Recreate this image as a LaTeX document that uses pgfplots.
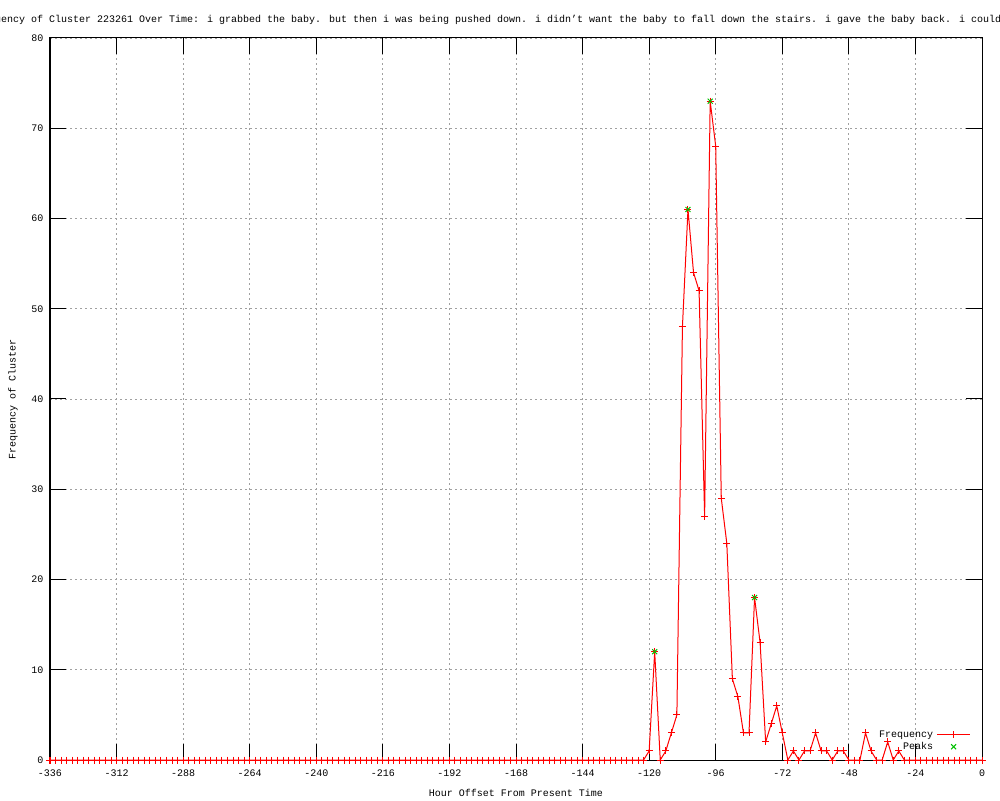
\documentclass[border=0pt]{standalone}
\usepackage{fontspec}
\setmainfont{Liberation Mono}
\usepackage{pgfplots}
\pgfplotsset{compat=1.18}
\usepackage{pgfplotstable}
\definecolor{gpred}{RGB}{255,0,0}
\definecolor{gpgreen}{RGB}{0,192,0}
\definecolor{gpgrid}{RGB}{160,160,160}
\pgfplotsset{
  freqlegend/.style={legend image code/.code={\draw[##1, gpred, line width=1pt, mark=+, mark size=3.5pt, mark repeat=2, mark phase=2] plot coordinates {(0pt,0pt) (16.5pt,0pt) (33pt,0pt)};}},
  peaklegend/.style={legend image code/.code={\path (0pt,0pt) (33pt,0pt); \draw[##1, gpgreen] plot coordinates {(16.5pt,0pt)};}},
}
\pgfplotstableread{
x y
-336 0
-334 0
-332 0
-330 0
-328 0
-326 0
-324 0
-322 0
-320 0
-318 0
-316 0
-314 0
-312 0
-310 0
-308 0
-306 0
-304 0
-302 0
-300 0
-298 0
-296 0
-294 0
-292 0
-290 0
-288 0
-286 0
-284 0
-282 0
-280 0
-278 0
-276 0
-274 0
-272 0
-270 0
-268 0
-266 0
-264 0
-262 0
-260 0
-258 0
-256 0
-254 0
-252 0
-250 0
-248 0
-246 0
-244 0
-242 0
-240 0
-238 0
-236 0
-234 0
-232 0
-230 0
-228 0
-226 0
-224 0
-222 0
-220 0
-218 0
-216 0
-214 0
-212 0
-210 0
-208 0
-206 0
-204 0
-202 0
-200 0
-198 0
-196 0
-194 0
-192 0
-190 0
-188 0
-186 0
-184 0
-182 0
-180 0
-178 0
-176 0
-174 0
-172 0
-170 0
-168 0
-166 0
-164 0
-162 0
-160 0
-158 0
-156 0
-154 0
-152 0
-150 0
-148 0
-146 0
-144 0
-142 0
-140 0
-138 0
-136 0
-134 0
-132 0
-130 0
-128 0
-126 0
-124 0
-122 0
-120 1
-118 12
-116 0
-114 1
-112 3
-110 5
-108 48
-106 61
-104 54
-102 52
-100 27
-98 73
-96 68
-94 29
-92 24
-90 9
-88 7
-86 3
-84 3
-82 18
-80 13
-78 2
-76 4
-74 6
-72 3
-70 0
-68 1
-66 0
-64 1
-62 1
-60 3
-58 1
-56 1
-54 0
-52 1
-50 1
-48 0
-46 0
-44 0
-42 3
-40 1
-38 0
-36 0
-34 2
-32 0
-30 1
-28 0
-26 0
-24 0
-22 0
-20 0
-18 0
-16 0
-14 0
-12 0
-10 0
-8 0
-6 0
-4 0
-2 0
0 0
}\freqdata
\pgfplotstableread{
x y
-118 12
-106 61
-98 73
-82 18
}\peakdata
\begin{document}
\begin{tikzpicture}
\useasboundingbox (0,0) rectangle (1000pt,800pt);
\begin{axis}[
  at={(50pt,40pt)}, anchor=south west,
  scale only axis, width=932pt, height=722pt,
  xmin=-336, xmax=0, ymin=0, ymax=80,
  xtick={-336,-312,...,0}, ytick={0,10,...,80},
  tick align=inside, major tick length=16pt,
  xtick style={draw=black, line width=1pt, solid},
  ytick style={draw=black, line width=1pt, solid},
  axis line style={black, line width=1pt},
  grid=major,
  major grid style={gpgrid, line width=0.8pt, dash pattern=on 2.3pt off 2.7pt},
  font=\fontsize{10}{12}\selectfont,
  /pgf/number format/assume math mode=true,
  xticklabel style={yshift=-6pt},
  yticklabel style={xshift=-3pt},
  every axis x label/.style={at={(axis description cs:0.5,-0.0457)}, anchor=center},
  every axis y label/.style={at={(axis description cs:-0.0397,0.5)}, rotate=90, anchor=center},
  xlabel={Hour Offset From Present Time},
  ylabel={Frequency of Cluster},
  legend style={draw=none, fill=none, at={(axis description cs:0.988,0.012)}, anchor=south east,
    row sep=3.5pt, font=\fontsize{10}{12}\selectfont, inner sep=0pt},
  legend cell align=right,
  legend plot pos=right,
  clip=false,
]
\addplot[gpred, line width=1pt, mark=+, mark size=3.5pt, mark options={line width=1pt}, freqlegend]
  table[x=x,y=y]{\freqdata};
\addlegendentry[inner xsep=3.5pt, inner ysep=0pt]{Frequency}
\addplot[gpgreen, only marks, mark=x, mark size=3.5pt, mark options={line width=1pt}, peaklegend]
  table[x=x,y=y]{\peakdata};
\addlegendentry[inner xsep=3.5pt, inner ysep=0pt]{Peaks}
\end{axis}
\node[anchor=base west, font=\fontsize{10}{12}\selectfont, inner sep=0pt] at (-29pt,777pt)
  {Frequency of Cluster 223261 Over Time: i grabbed the baby. but then i was being pushed down. i didn’t want the baby to fall down the stairs. i gave the baby back. i couldn’t};
\end{tikzpicture}
\end{document}
